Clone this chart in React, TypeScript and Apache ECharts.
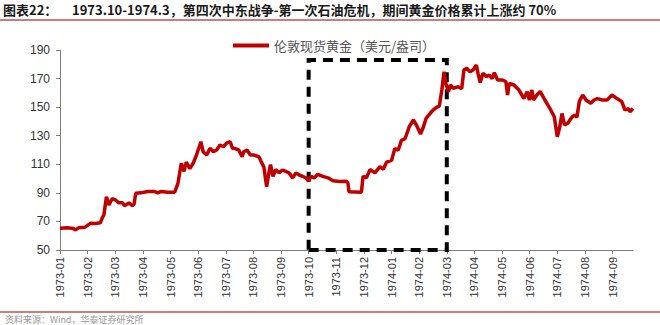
import React, { useEffect, useRef } from "react";
import * as echarts from "echarts";

const monthLabels = [
  "1973-01", "1973-02", "1973-03", "1973-04", "1973-05", "1973-06", "1973-07",
  "1973-08", "1973-09", "1973-10", "1973-11", "1973-12", "1974-01", "1974-02",
  "1974-03", "1974-04", "1974-05", "1974-06", "1974-07", "1974-08", "1974-09",
];

// position in months since 1973-01 (fractional)
const monthOffset = [
  0, 0.25, 0.49, 0.55, 0.67, 0.91, 1.1, 1.28, 1.46, 1.52, 1.59, 1.68, 1.77, 1.89,
  2.01, 2.13, 2.26, 2.34, 2.5, 2.62, 2.68, 2.74, 2.93, 3.17, 3.41, 3.54, 3.66, 3.9,
  4.15, 4.27, 4.39, 4.49, 4.57, 4.7, 4.82, 4.94, 5.1, 5.18, 5.31, 5.43, 5.55, 5.67,
  5.79, 5.92, 6.04, 6.16, 6.24, 6.34, 6.47, 6.59, 6.65, 6.77, 6.89, 7.01, 7.2, 7.29,
  7.38, 7.48, 7.56, 7.62, 7.71, 7.81, 7.93, 8.05, 8.17, 8.29, 8.42, 8.54, 8.66, 8.78,
  8.9, 9.0, 9.08, 9.21, 9.33, 9.51, 9.7, 9.88, 10.12, 10.36, 10.42, 10.46, 10.91,
  10.97, 11.09, 11.22, 11.4, 11.58, 11.7, 11.82, 12.0, 12.12, 12.24, 12.36, 12.49,
  12.64, 12.79, 12.9, 13.05, 13.15, 13.25, 13.4, 13.51, 13.63, 13.73, 13.82, 13.9,
  13.98, 14.06, 14.13, 14.24, 14.41, 14.54, 14.62, 14.72, 14.84, 14.95, 15.07, 15.13,
  15.21, 15.31, 15.43, 15.54, 15.64, 15.72, 15.84, 16.02, 16.14, 16.2, 16.26, 16.43,
  16.61, 16.79, 16.91, 16.99, 17.08, 17.14, 17.26, 17.38, 17.55, 17.73, 17.89, 18.0,
  18.09, 18.17, 18.26, 18.38, 18.5, 18.62, 18.71, 18.8, 18.92, 19.04, 19.21, 19.33,
  19.45, 19.63, 19.8, 19.98, 20.16, 20.33, 20.45, 20.57, 20.63, 20.74,
];

const goldPrice = [
  65.2, 65.5, 65, 64, 65.5, 66, 68.7, 68.5, 69, 72, 74.7, 87.3, 81.5, 86,
  85, 83, 83, 81, 83, 81, 82, 89.7, 90, 91, 91, 90, 91, 90.5,
  90.5, 96.7, 110.7, 105, 111.5, 107, 110.7, 116.5, 125.8, 118.8, 116.5, 121.2, 118.8, 120,
  123.5, 122.3, 125, 125.8, 121.2, 121, 120, 115.3, 118.8, 120, 116.5, 116.5, 115.3, 111.5,
  108, 94.3, 104, 109.8, 101.6, 106.3, 104, 106, 105, 104, 100.5, 104, 102.5, 101.6,
  100.5, 98.2, 101.6, 100.5, 103, 101.5, 100.5, 98.5, 98, 98.2, 97, 90.8, 90.5,
  101.6, 100.5, 106.3, 104, 108.3, 106.5, 111.5, 112.7, 121, 119.8, 126.8, 127.9,
  136.3, 141, 137.5, 131.2, 136, 142.1, 145.7, 148, 149.8, 150.8, 162, 174.8,
  165.5, 160.7, 165.5, 163.2, 164.3, 163, 176, 177.2, 174.8, 176, 179.5, 173.7,
  167.2, 173.7, 171.3, 172.5, 170, 174.1, 169, 169, 167.8, 158.5, 166.7, 165.5,
  162, 156, 160.8, 155, 162, 155, 158.5, 161, 155, 149.2, 143.3, 129.3,
  136.3, 145.6, 137.5, 138.7, 142.2, 144.5, 143, 154.2, 158.5, 155, 152.7, 155,
  156, 155, 155, 158.5, 156, 154, 148, 149, 146.8, 149,
];

const yTicks = [50, 70, 90, 110, 130, 150, 170, 190];

// crisis window: 1973-10 to 1974-03
const windowStart = 9;
const windowEnd = 14;
const windowTop = 183;

const seriesName = "伦敦现货黄金（美元/盎司）";
const titlePrefix = "图表22：";
const titleText = "1973.10-1974.3，第四次中东战争-第一次石油危机，期间黄金价格累计上涨约 70%";
const sourceText = "资料来源：Wind，华泰证券研究所";

export default function App() {
  const ref = useRef<HTMLDivElement>(null);

  useEffect(() => {
    document.body.style.margin = "0";
    if (!ref.current) return;
    const chart = echarts.init(ref.current, undefined, { renderer: "svg" });
    const data = monthOffset.map((m, i) => [m, goldPrice[i]]);
    const tickIdx = monthLabels.map((_, i) => i);

    chart.setOption({
      animation: false,
      backgroundColor: "#ffffff",
      grid: { left: 60, right: 27, top: 50, bottom: 75, containLabel: false },
      legend: {
        left: 228,
        top: 34,
        icon: "rect",
        itemWidth: 36,
        itemHeight: 4,
        itemGap: 4,
        textStyle: {
          color: "#555555",
          fontSize: 13,
          fontFamily: "Noto Sans CJK SC",
        },
        data: [seriesName],
      },
      xAxis: {
        type: "value",
        min: 0,
        max: monthOffset[monthOffset.length - 1],
        interval: 1,
        splitLine: { show: false },
        axisLine: { show: true, onZero: false, lineStyle: { color: "#7f7f7f", width: 1 } },
        axisTick: {
          show: true,
          length: 4,
          customValues: tickIdx,
          lineStyle: { color: "#7f7f7f" },
        },
        axisLabel: {
          rotate: 90,
          fontSize: 11,
          color: "#333333",
          fontFamily: "Liberation Sans",
          margin: 7,
          customValues: tickIdx,
          formatter: (v: number) => monthLabels[Math.round(v)] ?? "",
        },
      },
      yAxis: {
        type: "value",
        min: 50,
        max: 190,
        interval: 20,
        splitLine: { show: false },
        axisLine: { show: true, lineStyle: { color: "#7f7f7f", width: 1 } },
        axisTick: { show: true, length: 4, lineStyle: { color: "#7f7f7f" } },
        axisLabel: {
          fontSize: 12,
          color: "#333333",
          fontFamily: "Liberation Sans",
          margin: 10,
          customValues: yTicks,
        },
      },
      series: [
        {
          name: seriesName,
          type: "line",
          data,
          symbol: "none",
          showSymbol: false,
          lineStyle: { color: "#c00000", width: 3.5 },
          itemStyle: { color: "#c00000" },
          z: 3,
          markArea: {
            silent: true,
            itemStyle: {
              color: "rgba(0,0,0,0)",
              borderColor: "#000000",
              borderWidth: 4,
              borderType: [10, 7],
            },
            data: [
              [
                { xAxis: windowStart, yAxis: 50 },
                { xAxis: windowEnd, yAxis: windowTop },
              ],
            ],
          },
        },
      ],
      graphic: [
        {
          type: "text",
          left: 3,
          top: 3,
          style: {
            text: titlePrefix,
            fontSize: 13,
            fontWeight: "bold",
            fill: "#1a1a1a",
            fontFamily: "Noto Sans CJK SC",
          },
        },
        {
          type: "text",
          left: 72,
          top: 3,
          style: {
            text: titleText,
            fontSize: 13,
            fontWeight: "bold",
            fill: "#1a1a1a",
            fontFamily: "Noto Sans CJK SC",
          },
        },
        {
          type: "line",
          shape: { x1: 0, y1: 20, x2: 660, y2: 20 },
          style: { stroke: "#c0504d", lineWidth: 1.5 },
        },
        {
          type: "line",
          shape: { x1: 0, y1: 312, x2: 660, y2: 312 },
          style: { stroke: "#c0504d", lineWidth: 1.5 },
        },
        {
          type: "text",
          left: 5,
          top: 315,
          style: {
            text: sourceText,
            fontSize: 9,
            fill: "#999999",
            fontFamily: "Noto Sans CJK SC",
          },
        },
      ],
    });

    return () => chart.dispose();
  }, []);

  return <div ref={ref} style={{ width: 660, height: 325 }} />;
}
